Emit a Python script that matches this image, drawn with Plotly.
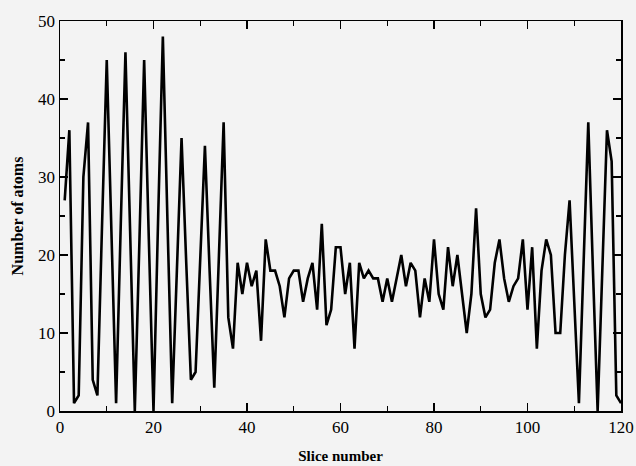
import plotly.graph_objects as go

slices = list(range(1, 121))
atoms = [
    27, 36, 1, 2, 30, 37, 4, 2, 24, 45,
    23, 1, 24, 46, 23, 0, 22, 45, 22, 0,
    25, 48, 24, 1, 18, 35, 19, 4, 5, 19,
    34, 18, 3, 20, 37, 12, 8, 19, 15, 19,
    16, 18, 9, 22, 18, 18, 16, 12, 17, 18,
    18, 14, 17, 19, 13, 24, 11, 13, 21, 21,
    15, 19, 8, 19, 17, 18, 17, 17, 14, 17,
    14, 17, 20, 16, 19, 18, 12, 17, 14, 22,
    15, 13, 21, 16, 20, 15, 10, 15, 26, 15,
    12, 13, 19, 22, 17, 14, 16, 17, 22, 13,
    21, 8, 18, 22, 20, 10, 10, 20, 27, 14,
    1, 19, 37, 18, 0, 18, 36, 32, 2, 1,
]
x_ticks = [0, 20, 40, 60, 80, 100, 120]
y_ticks = [0, 10, 20, 30, 40, 50]

FONT = "Liberation Serif"
BG = "#f3f3f3"

fig = go.Figure(go.Scatter(
    x=slices, y=atoms, mode="lines",
    line=dict(color="black", width=2.6),
    hoverinfo="skip", cliponaxis=True,
))

axis_common = dict(
    showgrid=False, zeroline=False, automargin=False,
    showline=True, linecolor="black", linewidth=1.5, mirror="ticks",
    ticks="inside", ticklen=8, tickwidth=1.3, tickcolor="black",
    tickfont=dict(family=FONT, size=17, color="black"),
)

fig.update_layout(
    width=636, height=466,
    margin=dict(l=60, r=15, t=21, b=55),
    paper_bgcolor=BG, plot_bgcolor=BG,
    font=dict(family=FONT, color="black"),
    showlegend=False,
    xaxis=dict(
        range=[0, 120], tickvals=x_ticks, ticktext=[str(v) for v in x_ticks],
        minor=dict(dtick=10, tick0=0, ticks="inside", ticklen=5, tickwidth=1.2, tickcolor="black"),
        title=dict(text="Slice number", font=dict(family=FONT, size=15, color="black", weight="bold"), standoff=14),
        **axis_common,
    ),
    yaxis=dict(
        range=[0, 50], tickvals=y_ticks, ticktext=[str(v) for v in y_ticks],
        minor=dict(dtick=5, tick0=0, ticks="inside", ticklen=5, tickwidth=1.2, tickcolor="black"),
        title=dict(text="Number of atoms", font=dict(family=FONT, size=16, color="black", weight="bold"), standoff=10),
        **axis_common,
    ),
)

fig.write_html(
    "out.html",
    config={"displayModeBar": False, "staticPlot": True},
    post_script="document.body.style.margin='0';document.body.style.background='%s';" % BG,
)
